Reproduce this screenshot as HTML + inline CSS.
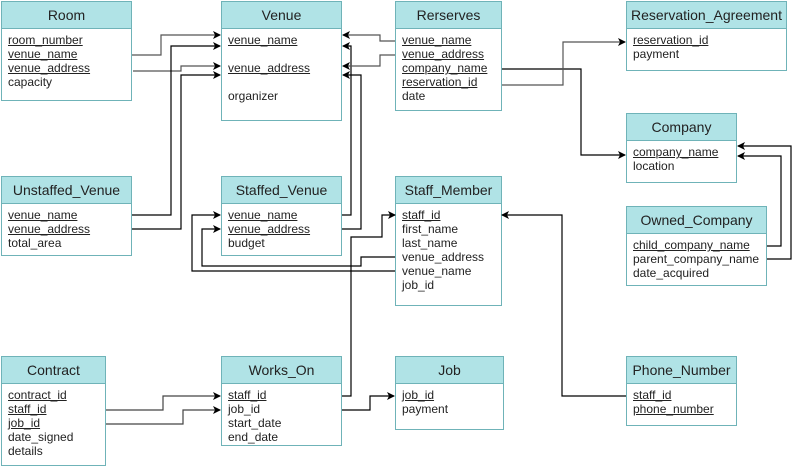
<!DOCTYPE html>
<html><head><meta charset="utf-8"><style>
body{margin:0;width:800px;height:469px;background:#fff;position:relative;overflow:hidden;font-family:"Liberation Sans",Arial,sans-serif;}
.t{position:absolute;border:1.5px solid #6fb3b8;background:#fff;box-sizing:border-box;}
.h{height:26px;background:#b0e3e6;border-bottom:1.5px solid #6fb3b8;text-align:center;font-size:14px;line-height:26px;color:#222;}
.b{padding:4px 6px;font-size:12px;line-height:14px;color:#222;}
.u{text-decoration:underline;}
svg{position:absolute;left:0;top:0;}
</style></head><body>
<div class="t" style="left:1px;top:1px;width:131px;height:100px"><div class="h">Room</div><div class="b"><div class="u">room_number</div><div class="u">venue_name</div><div class="u">venue_address</div><div>capacity</div></div></div>
<div class="t" style="left:221px;top:1px;width:121px;height:120px"><div class="h">Venue</div><div class="b"><div class="u">venue_name</div><div>&nbsp;</div><div class="u">venue_address</div><div>&nbsp;</div><div>organizer</div></div></div>
<div class="t" style="left:395px;top:1px;width:107px;height:110px"><div class="h">Rerserves</div><div class="b"><div class="u">venue_name</div><div class="u">venue_address</div><div class="u">company_name</div><div class="u">reservation_id</div><div>date</div></div></div>
<div class="t" style="left:626px;top:1px;width:161px;height:70px"><div class="h">Reservation_Agreement</div><div class="b"><div class="u">reservation_id</div><div>payment</div></div></div>
<div class="t" style="left:626px;top:113px;width:111px;height:70px"><div class="h">Company</div><div class="b"><div class="u">company_name</div><div>location</div></div></div>
<div class="t" style="left:626px;top:206px;width:141px;height:80px"><div class="h">Owned_Company</div><div class="b"><div class="u">child_company_name</div><div>parent_company_name</div><div>date_acquired</div></div></div>
<div class="t" style="left:1px;top:176px;width:131px;height:80px"><div class="h">Unstaffed_Venue</div><div class="b"><div class="u">venue_name</div><div class="u">venue_address</div><div>total_area</div></div></div>
<div class="t" style="left:221px;top:176px;width:121px;height:80px"><div class="h">Staffed_Venue</div><div class="b"><div class="u">venue_name</div><div class="u">venue_address</div><div>budget</div></div></div>
<div class="t" style="left:395px;top:176px;width:107px;height:130px"><div class="h">Staff_Member</div><div class="b"><div class="u">staff_id</div><div>first_name</div><div>last_name</div><div>venue_address</div><div>venue_name</div><div>job_id</div></div></div>
<div class="t" style="left:1px;top:356px;width:105px;height:110px"><div class="h">Contract</div><div class="b"><div class="u">contract_id</div><div class="u">staff_id</div><div class="u">job_id</div><div>date_signed</div><div>details</div></div></div>
<div class="t" style="left:221px;top:356px;width:121px;height:90px"><div class="h">Works_On</div><div class="b"><div class="u">staff_id</div><div>job_id</div><div>start_date</div><div>end_date</div></div></div>
<div class="t" style="left:395px;top:356px;width:109px;height:74px"><div class="h">Job</div><div class="b"><div class="u">job_id</div><div>payment</div></div></div>
<div class="t" style="left:626px;top:356px;width:111px;height:70px"><div class="h">Phone_Number</div><div class="b"><div class="u">staff_id</div><div class="u">phone_number</div></div></div>
<svg width="800" height="469"><defs><marker id="a" markerWidth="8" markerHeight="8" refX="7" refY="4" orient="auto" markerUnits="userSpaceOnUse"><path d="M0,0L8,4L0,8L2,4z" fill="#000"/></marker></defs>
<g fill="none" stroke="#000" stroke-width="1.2" marker-end="url(#a)">
<path d="M132,55H161V35H220" stroke="#555"/>
<path d="M133,71H181V66H220" stroke="#555"/>
<path d="M132,215H171V46H220"/>
<path d="M132,229H181V75H220"/>
<path d="M342,215H351V46H343"/>
<path d="M342,229H361V75H343"/>
<path d="M395,41H380V35H343" stroke="#555"/>
<path d="M395,55H380V66H343" stroke="#555"/>
<path d="M502,69H581V155H625"/>
<path d="M502,85H563V42H625" stroke="#555"/>
<path d="M767,246H781V156H738"/>
<path d="M767,259H791V146H738"/>
<path d="M395,257H361V266H202V229H220"/>
<path d="M395,271H192V215H220"/>
<path d="M342,396H351V237H382V215H395"/>
<path d="M626,396H562V215H502"/>
<path d="M106,410H163V396H220" stroke="#444"/>
<path d="M106,424H183V410H220" stroke="#444"/>
<path d="M342,410H370V396H394"/>
</g></svg>
</body></html>
